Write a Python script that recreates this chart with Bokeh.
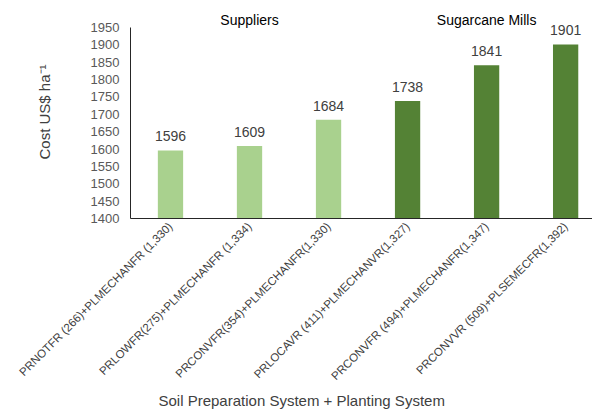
from bokeh.plotting import figure
from bokeh.models import FixedTicker, Title, Range1d
from bokeh.core.properties import value
from bokeh.embed import file_html
from bokeh.resources import INLINE
import math

categories = [
    "PRNOTFR (266)+PLMECHANFR (1,330)",
    "PRLOWFR(275)+PLMECHANFR (1,334)",
    "PRCONVFR(354)+PLMECHANFR(1,330)",
    "PRLOCAVR (411)+PLMECHANVR(1,327)",
    "PRCONVFR (494)+PLMECHANFR(1,347)",
    "PRCONVVR (509)+PLSEMECFR(1,392)",
]
costs = [1596, 1609, 1684, 1738, 1841, 1901]
groups = ["Suppliers", "Suppliers", "Suppliers", "Sugarcane Mills", "Sugarcane Mills", "Sugarcane Mills"]
group_names = ["Suppliers", "Sugarcane Mills"]
group_colors = {"Suppliers": "#A9D18E", "Sugarcane Mills": "#548235"}
y_ticks = list(range(1400, 1951, 50))

FONT = "Liberation Sans"

xs = list(range(len(categories)))
colors = [group_colors[g] for g in groups]

p = figure(width=592, height=411, output_backend="svg", toolbar_location=None,
           x_range=Range1d(-0.506, 5.34), y_range=Range1d(1400, 2013),
           min_border_left=130, min_border_right=0, min_border_top=5,
           min_border_bottom=0)
p.outline_line_color = None
p.xgrid.grid_line_color = None
p.ygrid.grid_line_color = None
p.background_fill_color = "white"

p.vbar(x=xs, top=costs, bottom=1400, width=0.32, fill_color=colors, line_color=None)

p.text(x=xs, y=costs, text=[str(c) for c in costs], text_align="center",
       text_baseline="middle", y_offset=-14, text_font=value(FONT),
       text_font_size="14px", text_color="#404040")

# group labels centered over middle bar of each group
gx = []
for g in group_names:
    idx = [i for i, gg in enumerate(groups) if gg == g]
    gx.append(sum(idx) / len(idx))
p.text(x=gx, y=[1970, 1970], text=group_names, text_align="center",
       text_baseline="middle", text_font=value(FONT), text_font_size="14px",
       text_color="#000000")

# y axis
ya = p.yaxis[0]
ya.ticker = FixedTicker(ticks=y_ticks)
ya.bounds = (1400, 1950)
ya.major_tick_line_color = None
ya.minor_tick_line_color = None
ya.major_tick_out = 0
ya.major_label_standoff = 11
ya.major_label_text_font = FONT
ya.major_label_text_font_size = "13px"
ya.major_label_text_color = "#595959"
ya.axis_line_color = "#262626"
ya.axis_label = "Cost US$ ha\u207b\u00b9"
ya.axis_label_text_font = FONT
ya.axis_label_text_font_size = "15px"
ya.axis_label_text_font_style = "normal"
ya.axis_label_text_color = "#404040"
ya.axis_label_standoff = 35

# x axis
xa = p.xaxis[0]
xa.ticker = FixedTicker(ticks=xs)
xa.major_label_overrides = {i: c for i, c in enumerate(categories)}
xa.major_label_orientation = math.pi / 4
xa.major_tick_line_color = None
xa.minor_tick_line_color = None
xa.major_tick_out = 0
xa.major_tick_in = 0
xa.major_label_standoff = 6
xa.major_label_text_font = FONT
xa.major_label_text_font_size = "11.5px"
xa.major_label_text_color = "#404040"
xa.axis_line_color = "#262626"

p.add_layout(Title(text="Soil Preparation System + Planting System", align="left",
                   offset=28, standoff=0, text_font=FONT, text_font_size="15px",
                   text_font_style="normal", text_color="#404040"), "below")
# small spacer beneath the axis title
p.add_layout(Title(text=" ", standoff=0, text_font=FONT, text_font_size="1px"), "below")

open("out.html", "w").write(file_html(p, INLINE))
